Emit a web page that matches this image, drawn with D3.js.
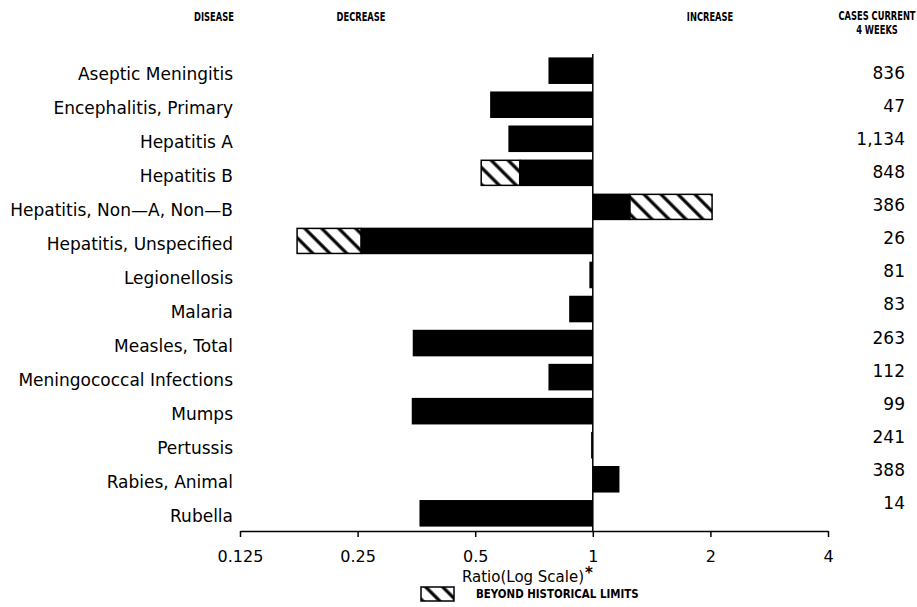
<!DOCTYPE html>
<html>
<head>
<meta charset="utf-8">
<script src="https://cdn.jsdelivr.net/npm/d3@7"></script>
<style>
  body { margin: 0; background: #fff; }
  svg { display: block; }
  .lbl { font-family: "DejaVu Sans", sans-serif; font-size: 17px; fill: #000; }
  .hdr { font-family: "DejaVu Sans", sans-serif; font-weight: bold; font-size: 13px; fill: #000; }
</style>
</head>
<body>
<div id="chart"></div>
<script>

// diseases, top to bottom
const diseases = [
    'Aseptic Meningitis', 'Encephalitis, Primary', 'Hepatitis A', 'Hepatitis B',
    'Hepatitis, Non\u2014A, Non\u2014B', 'Hepatitis, Unspecified', 'Legionellosis', 'Malaria',
    'Measles, Total', 'Meningococcal Infections', 'Mumps', 'Pertussis',
    'Rabies, Animal', 'Rubella'
];

// ratio of current 4 weeks to historical baseline (end of whole bar)
const ratios = [0.77, 0.546, 0.608, 0.518, 2.02, 0.175, 0.98, 0.87, 0.346, 0.77, 0.344, 0.99, 1.17, 0.36];

// where the historical limit sits (solid part ends, hatched part begins); null = within limits
const limits = [null, null, null, 0.65, 1.245, 0.255, null, null, null, null, null, null, null, null];

const casesCurrent = ['836', '47', '1,134', '848', '386', '26', '81', '83', '263', '112', '99', '241', '388', '14'];

const tickValues = [0.125, 0.25, 0.5, 1, 2, 4];
const tickLabels = ['0.125', '0.25', '0.5', '1', '2', '4'];

const width = 917;
const height = 607;

const svg = d3.select('#chart')
    .append('svg')
    .attr('width', width)
    .attr('height', height);

// hatch pattern for "beyond historical limits" (lines running top-left to bottom-right)
const defs = svg.append('defs');
const pat = defs.append('pattern')
    .attr('id', 'hatch')
    .attr('patternUnits', 'userSpaceOnUse')
    .attr('width', 12)
    .attr('height', 12)
    .attr('patternTransform', 'rotate(45)');
pat.append('rect').attr('width', 12).attr('height', 12).attr('fill', '#fff');
pat.append('line')
    .attr('x1', 0).attr('y1', 6).attr('x2', 12).attr('y2', 6)
    .attr('stroke', '#000').attr('stroke-width', 3.2);

// scales
const x = d3.scaleLog().base(2)
    .domain([0.125, 4])
    .range([240, 828]);

const y = d3.scaleBand()
    .domain(diseases)
    .range([54, 530])
    .paddingInner(0.22)
    .paddingOuter(0.1);

const yCases = d3.scalePoint()
    .domain(diseases)
    .range([73, 503]);

const axisY = 531;

// header (narrow lettering: squeeze horizontally)
const headers = [
    {t: 'DISEASE', x: 214, y: 21},
    {t: 'DECREASE', x: 361, y: 21},
    {t: 'INCREASE', x: 710, y: 21},
    {t: 'CASES CURRENT', x: 877, y: 20},
    {t: '4 WEEKS', x: 877, y: 34}
];
svg.append('g')
    .selectAll('text')
    .data(headers)
    .enter()
    .append('text')
    .attr('class', 'hdr')
    .attr('transform', d => `translate(${d.x},${d.y}) scale(0.64,1)`)
    .attr('text-anchor', 'middle')
    .text(d => d.t);

// bars
const rows = diseases.map((d, i) => ({name: d, ratio: ratios[i], limit: limits[i], cases: casesCurrent[i]}));

const barG = svg.append('g');

// solid part
barG.selectAll('rect.solid')
    .data(rows)
    .enter()
    .append('rect')
    .attr('class', 'solid')
    .attr('x', d => Math.min(x(1), x(d.limit || d.ratio)))
    .attr('y', d => y(d.name))
    .attr('width', d => Math.max(1.5, Math.abs(x(d.limit || d.ratio) - x(1))))
    .attr('height', y.bandwidth())
    .attr('fill', '#000');

// hatched part beyond historical limits
barG.selectAll('rect.beyond')
    .data(rows.filter(d => d.limit !== null))
    .enter()
    .append('rect')
    .attr('class', 'beyond')
    .attr('x', d => Math.min(x(d.limit), x(d.ratio)))
    .attr('y', d => y(d.name) + 0.75)
    .attr('width', d => Math.abs(x(d.ratio) - x(d.limit)))
    .attr('height', y.bandwidth() - 1.5)
    .attr('fill', 'url(#hatch)')
    .attr('stroke', '#000')
    .attr('stroke-width', 1.5);

// reference line at ratio 1
svg.append('line')
    .attr('x1', x(1)).attr('x2', x(1))
    .attr('y1', 54).attr('y2', axisY)
    .attr('stroke', '#000')
    .attr('stroke-width', 1.5);

// disease labels
svg.append('g')
    .selectAll('text')
    .data(rows)
    .enter()
    .append('text')
    .attr('class', 'lbl')
    .attr('x', 233)
    .attr('y', d => y(d.name) + y.bandwidth() / 2 + 3)
    .attr('dy', '0.35em')
    .attr('text-anchor', 'end')
    .text(d => d.name);

// cases column
svg.append('g')
    .selectAll('text')
    .data(rows)
    .enter()
    .append('text')
    .attr('class', 'lbl')
    .attr('x', 905)
    .attr('y', d => yCases(d.name))
    .attr('dy', '0.35em')
    .attr('text-anchor', 'end')
    .text(d => d.cases);

// x axis
const xAxis = svg.append('g')
    .attr('transform', `translate(0, ${axisY})`)
    .call(d3.axisBottom(x)
        .tickValues(tickValues)
        .tickFormat((d, i) => tickLabels[i])
        .tickSize(6)
        .tickSizeOuter(0)
        .tickPadding(14));
xAxis.select('.domain').attr('stroke-width', 1.5);
xAxis.selectAll('.tick line').attr('stroke-width', 1.5);
xAxis.selectAll('.tick text')
    .attr('class', 'lbl')
    .style('font-size', '16px');

// axis title with asterisk after it
const title = svg.append('text')
    .attr('class', 'lbl')
    .attr('x', 523)
    .attr('y', 582)
    .attr('text-anchor', 'middle')
    .style('font-size', '15px')
    .text('Ratio(Log Scale)');
const titleEnd = 523 + title.node().getComputedTextLength() / 2;
svg.append('text')
    .attr('class', 'lbl')
    .attr('x', titleEnd + 1)
    .attr('y', 578)
    .style('font-weight', 'bold')
    .style('font-size', '15px')
    .text('*');

// legend
svg.append('rect')
    .attr('x', 421)
    .attr('y', 587)
    .attr('width', 33)
    .attr('height', 14)
    .attr('fill', 'url(#hatch)')
    .attr('stroke', '#000')
    .attr('stroke-width', 1.5);
svg.append('text')
    .attr('class', 'hdr')
    .attr('transform', 'translate(476,598) scale(0.82,1)')
    .style('font-size', '12.5px')
    .text('BEYOND HISTORICAL LIMITS');

</script>
</body>
</html>
